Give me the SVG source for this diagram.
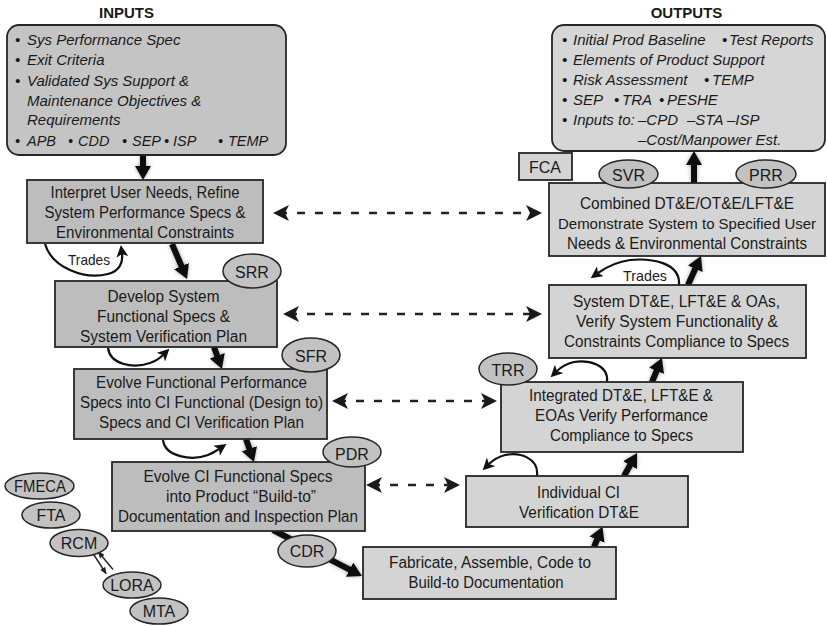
<svg xmlns="http://www.w3.org/2000/svg" width="827" height="626" viewBox="0 0 827 626">
<style>
.bxl{fill:#bdbdbd;stroke:#262626;stroke-width:1.8}
.bxr{fill:#d4d4d4;stroke:#262626;stroke-width:1.8}
.bin{fill:#c4c4c4;stroke:#262626;stroke-width:1.8}
.bout{fill:#d6d6d6;stroke:#262626;stroke-width:1.8}
.el{fill:#c2c2c2;stroke:#262626;stroke-width:1.5}
.t{font-family:"Liberation Sans",Arial,sans-serif;font-size:16px;fill:#1a1a1a;text-anchor:middle}
.lb{font-family:"Liberation Sans",Arial,sans-serif;font-size:16px;fill:#1a1a1a;text-anchor:middle}
.it{font-family:"Liberation Sans",Arial,sans-serif;font-size:15px;font-style:italic;fill:#1a1a1a}
.ti{font-family:"Liberation Sans",Arial,sans-serif;font-size:15px;font-weight:bold;fill:#1a1a1a;text-anchor:middle}
.tr{font-family:"Liberation Sans",Arial,sans-serif;font-size:15px;fill:#1a1a1a}
.thick{stroke:#111;stroke-width:6;fill:none;marker-end:url(#bigHead)}
.dash{stroke:#222;stroke-width:2.6;stroke-dasharray:8 10;fill:none;marker-start:url(#dHead);marker-end:url(#dHead)}
.loop{fill:none;stroke:#111;stroke-width:2.2;marker-end:url(#sHead)}
.thin{fill:none;stroke:#222;stroke-width:1.4}
</style>
<defs>
<marker id="bigHead" markerUnits="userSpaceOnUse" viewBox="0 0 14 16" markerWidth="14" markerHeight="16" refX="5" refY="8" orient="auto"><path d="M0,0 L14,8 L0,16 z" fill="#111"/></marker>
<marker id="dHead" markerUnits="userSpaceOnUse" viewBox="0 0 16 16" markerWidth="16" markerHeight="16" refX="10" refY="8" orient="auto-start-reverse"><path d="M0,0 L16,8 L0,16 L4,8 z" fill="#1a1a1a"/></marker>
<marker id="sHead" markerUnits="userSpaceOnUse" viewBox="0 0 12 12" markerWidth="12" markerHeight="12" refX="3" refY="6" orient="auto"><path d="M0,0 L12,6 L0,12 L3,6 z" fill="#111"/></marker>
<marker id="tHead" markerUnits="userSpaceOnUse" viewBox="0 0 7 6" markerWidth="7" markerHeight="6" refX="6" refY="3" orient="auto-start-reverse"><path d="M0,0 L7,3 L0,6 z" fill="#222"/></marker>
<filter id="halo" filterUnits="userSpaceOnUse" x="0" y="0" width="827" height="626"><feGaussianBlur in="SourceAlpha" stdDeviation="2.2"/><feComponentTransfer><feFuncA type="linear" slope="0.35"/></feComponentTransfer><feMerge><feMergeNode/><feMergeNode in="SourceGraphic"/></feMerge></filter>
</defs>
<rect width="827" height="626" fill="#fff"/>

<g id="connectors">
<g filter="url(#halo)">
<line class="thick" x1="143" y1="155" x2="143" y2="171"/>
<line class="thick" x1="172" y1="244" x2="183.5" y2="270.7"/>
<line class="thick" x1="214" y1="347" x2="218.9" y2="360.5"/>
<line class="thick" x1="246" y1="439" x2="251" y2="453.5"/>
<line class="thick" x1="273" y1="530" x2="354" y2="571.9"/>
<line class="thick" x1="594" y1="547" x2="599" y2="535"/>
<line class="thick" x1="624" y1="476" x2="632.6" y2="460.8"/>
<line class="thick" x1="652" y1="382" x2="658.5" y2="366.3"/>
<line class="thick" x1="688" y1="285" x2="697.3" y2="264.2"/>
<line class="thick" x1="694" y1="183" x2="694" y2="160"/>
</g>
<line class="dash" x1="279" y1="213" x2="536" y2="213"/>
<line class="dash" x1="289" y1="314" x2="536" y2="314"/>
<line class="dash" x1="338" y1="401" x2="491" y2="401"/>
<line class="dash" x1="372" y1="485" x2="454" y2="485"/>
<path class="loop" d="M45,244 C52,268 85,280 108,274 C120,271 123,262 122,254"/>
<text class="tr" x="68" y="265" textLength="42" lengthAdjust="spacingAndGlyphs">Trades</text>
<path class="loop" d="M108,348 C110,364 132,369 150,363 C156,361 160,358 163,355"/>
<path class="loop" d="M163,440 C165,457 192,461 208,455 C213,453 216,451 219,449"/>
<path class="loop" d="M679,285 C681,262 650,258 630,260 C615,262 605,268 598,273"/>
<text class="tr" x="623" y="281" textLength="44" lengthAdjust="spacingAndGlyphs">Trades</text>
<path class="loop" d="M607,382 C609,364 588,360 574,362 C566,364 561,367 557,371"/>
<path class="loop" d="M537,476 C539,458 520,452 505,455 C498,457 493,460 489,464"/>
<line class="thin" x1="93" y1="553.5" x2="106" y2="573.5" marker-end="url(#tHead)"/>
<line class="thin" x1="98.5" y1="552" x2="113" y2="569.5" marker-start="url(#tHead)"/>
</g>

<text class="ti" x="126.5" y="18">INPUTS</text>
<text class="ti" x="686.5" y="18">OUTPUTS</text>

<g id="inputs">
<rect class="bin" x="7" y="25" width="279" height="130" rx="12"/>
<text class="it"><tspan x="15" y="45">•</tspan><tspan x="27" y="45">Sys Performance Spec</tspan></text>
<text class="it"><tspan x="15" y="65">•</tspan><tspan x="27" y="65">Exit Criteria</tspan></text>
<text class="it"><tspan x="15" y="86">•</tspan><tspan x="27" y="86">Validated Sys Support &amp;</tspan></text>
<text class="it" x="27" y="106">Maintenance Objectives &amp;</text>
<text class="it" x="27" y="125">Requirements</text>
<text class="it" style="font-size:14.5px"><tspan x="15" y="146">•</tspan><tspan x="27" y="146">APB</tspan><tspan x="68" y="146">•</tspan><tspan x="78" y="146">CDD</tspan><tspan x="122" y="146">•</tspan><tspan x="132" y="146">SEP</tspan><tspan x="164" y="146">•</tspan><tspan x="173" y="146">ISP</tspan><tspan x="218" y="146">•</tspan><tspan x="228" y="146">TEMP</tspan></text>
</g>

<g id="outputs">
<rect class="bout" x="552" y="25" width="273" height="126" rx="12"/>
<text class="it"><tspan x="562" y="45">•</tspan><tspan x="573" y="45">Initial Prod Baseline</tspan><tspan x="722" y="45">•</tspan><tspan x="729" y="45">Test Reports</tspan></text>
<text class="it"><tspan x="562" y="65">•</tspan><tspan x="573" y="65">Elements of Product Support</tspan></text>
<text class="it"><tspan x="562" y="85">•</tspan><tspan x="573" y="85">Risk Assessment</tspan><tspan x="704" y="85">•</tspan><tspan x="712" y="85">TEMP</tspan></text>
<text class="it"><tspan x="562" y="105">•</tspan><tspan x="573" y="105">SEP</tspan><tspan x="614" y="105">•</tspan><tspan x="622" y="105">TRA</tspan><tspan x="659" y="105">•</tspan><tspan x="667" y="105">PESHE</tspan></text>
<text class="it"><tspan x="562" y="125">•</tspan><tspan x="573" y="125">Inputs to:</tspan><tspan x="638" y="125">–CPD</tspan><tspan x="687" y="125">–STA</tspan><tspan x="727" y="125">–ISP</tspan></text>
<text class="it" x="638" y="145">–Cost/Manpower Est.</text>
</g>

<g id="box-interpret">
<rect class="bxl" x="27" y="180" width="236" height="63"/>
<text class="t" x="145" y="198" textLength="189" lengthAdjust="spacingAndGlyphs">Interpret User Needs, Refine</text>
<text class="t" x="145" y="218" textLength="201" lengthAdjust="spacingAndGlyphs">System Performance Specs &amp;</text>
<text class="t" x="145" y="238" textLength="178" lengthAdjust="spacingAndGlyphs">Environmental Constraints</text>
</g>
<g id="box-develop">
<rect class="bxl" x="55" y="281" width="222" height="66"/>
<text class="t" x="163.5" y="302" textLength="112" lengthAdjust="spacingAndGlyphs">Develop System</text>
<text class="t" x="163.5" y="322" textLength="133" lengthAdjust="spacingAndGlyphs">Functional Specs &amp;</text>
<text class="t" x="163.5" y="342" textLength="167" lengthAdjust="spacingAndGlyphs">System Verification Plan</text>
</g>
<g id="box-evolve-perf">
<rect class="bxl" x="74" y="369" width="253" height="70"/>
<text class="t" x="201.5" y="388" textLength="211" lengthAdjust="spacingAndGlyphs">Evolve Functional Performance</text>
<text class="t" x="201.5" y="408" textLength="243" lengthAdjust="spacingAndGlyphs">Specs into CI Functional (Design to)</text>
<text class="t" x="201.5" y="428" textLength="205" lengthAdjust="spacingAndGlyphs">Specs and CI Verification Plan</text>
</g>
<g id="box-evolve-ci">
<rect class="bxl" x="112" y="462" width="253" height="69"/>
<text class="t" x="238" y="482" textLength="189" lengthAdjust="spacingAndGlyphs">Evolve CI Functional Specs</text>
<text class="t" x="241" y="502" textLength="150" lengthAdjust="spacingAndGlyphs">into Product “Build-to”</text>
<text class="t" x="238" y="522" textLength="240" lengthAdjust="spacingAndGlyphs">Documentation and Inspection Plan</text>
</g>
<g id="box-fabricate">
<rect class="bxr" x="363" y="547" width="253" height="52"/>
<text class="t" x="490" y="568" textLength="202" lengthAdjust="spacingAndGlyphs">Fabricate, Assemble, Code to</text>
<text class="t" x="486" y="588" textLength="155" lengthAdjust="spacingAndGlyphs">Build-to Documentation</text>
</g>
<g id="box-individual">
<rect class="bxr" x="466" y="476" width="222" height="51"/>
<text class="t" x="578.5" y="498" textLength="83" lengthAdjust="spacingAndGlyphs">Individual CI</text>
<text class="t" x="579" y="518" textLength="120" lengthAdjust="spacingAndGlyphs">Verification  DT&amp;E</text>
</g>
<g id="box-integrated">
<rect class="bxr" x="501" y="382" width="242" height="70"/>
<text class="t" x="621" y="401" textLength="184" lengthAdjust="spacingAndGlyphs">Integrated DT&amp;E, LFT&amp;E &amp;</text>
<text class="t" x="621.5" y="421" textLength="173" lengthAdjust="spacingAndGlyphs">EOAs Verify Performance</text>
<text class="t" x="621.5" y="441" textLength="143" lengthAdjust="spacingAndGlyphs">Compliance to Specs</text>
</g>
<g id="box-system">
<rect class="bxr" x="549" y="285" width="257" height="73"/>
<text class="t" x="676.5" y="307" textLength="207" lengthAdjust="spacingAndGlyphs">System DT&amp;E, LFT&amp;E &amp; OAs,</text>
<text class="t" x="677" y="327" textLength="202" lengthAdjust="spacingAndGlyphs">Verify System Functionality &amp;</text>
<text class="t" x="676.5" y="347" textLength="225" lengthAdjust="spacingAndGlyphs">Constraints Compliance to Specs</text>
</g>
<g id="box-combined">
<rect class="bxr" x="549" y="183" width="276" height="73"/>
<text class="t" x="687" y="209" textLength="214" lengthAdjust="spacingAndGlyphs">Combined DT&amp;E/OT&amp;E/LFT&amp;E</text>
<text class="t" x="687" y="229" style="font-size:15px" textLength="258" lengthAdjust="spacingAndGlyphs">Demonstrate System to Specified User</text>
<text class="t" x="687" y="249" textLength="240" lengthAdjust="spacingAndGlyphs">Needs &amp; Environmental Constraints</text>
</g>
<g id="fca">
<rect class="bxr" x="519" y="153" width="53" height="27"/>
<text class="t" x="545" y="173" textLength="32" lengthAdjust="spacingAndGlyphs">FCA</text>
</g>

<g id="svr"><ellipse class="el" cx="628.5" cy="174" rx="29.5" ry="14"/><text class="lb" x="628.5" y="181">SVR</text></g>
<g id="prr"><ellipse class="el" cx="766" cy="174" rx="30" ry="14"/><text class="lb" x="766" y="181">PRR</text></g>
<g id="srr"><ellipse class="el" cx="252" cy="271" rx="29" ry="17"/><text class="lb" x="252" y="278">SRR</text></g>
<g id="sfr"><ellipse class="el" cx="311" cy="355" rx="29" ry="17"/><text class="lb" x="311" y="362">SFR</text></g>
<g id="pdr"><ellipse class="el" cx="352" cy="452" rx="29" ry="15"/><text class="lb" x="352" y="460">PDR</text></g>
<g id="cdr"><ellipse class="el" cx="307" cy="551" rx="29" ry="16"/><text class="lb" x="307" y="557">CDR</text></g>
<g id="trr"><ellipse class="el" cx="508" cy="369" rx="29" ry="16"/><text class="lb" x="508" y="376">TRR</text></g>
<g id="fmeca"><ellipse class="el" cx="39.5" cy="486" rx="34.5" ry="13"/><text class="lb" x="40" y="492" textLength="52" lengthAdjust="spacingAndGlyphs">FMECA</text></g>
<g id="fta"><ellipse class="el" cx="51" cy="515" rx="29" ry="13"/><text class="lb" x="51" y="521">FTA</text></g>
<g id="rcm"><ellipse class="el" cx="79" cy="543" rx="29" ry="13.5"/><text class="lb" x="79" y="549">RCM</text></g>
<g id="lora"><ellipse class="el" cx="132" cy="585" rx="29" ry="13"/><text class="lb" x="132" y="591">LORA</text></g>
<g id="mta"><ellipse class="el" cx="159" cy="611" rx="29" ry="13"/><text class="lb" x="159" y="617">MTA</text></g>
</svg>
